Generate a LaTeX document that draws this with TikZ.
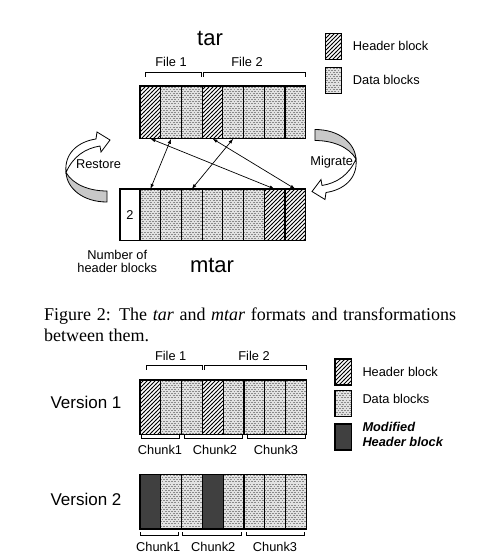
\documentclass[tikz,border=0pt]{standalone}
\usepackage{fontspec}
\setmainfont{Liberation Sans}
\newfontfamily\capfont{Liberation Serif}
\usetikzlibrary{patterns,arrows.meta,calc}

\pgfdeclarepatternformonly{hatchlines}{\pgfqpoint{-1pt}{-1pt}}{\pgfqpoint{5pt}{5pt}}{\pgfqpoint{4pt}{4pt}}{%
  \pgfsetlinewidth{0.9pt}
  \pgfpathmoveto{\pgfqpoint{-0.1pt}{-0.1pt}}
  \pgfpathlineto{\pgfqpoint{4.1pt}{4.1pt}}
  \pgfusepath{stroke}}
\pgfdeclarepatternformonly{datadash}{\pgfqpoint{-1pt}{-1pt}}{\pgfqpoint{4pt}{5pt}}{\pgfqpoint{3.2pt}{4.2pt}}{%
  \pgfsetlinewidth{0.9pt}
  \pgfpathmoveto{\pgfqpoint{0pt}{0.6pt}}\pgfpathlineto{\pgfqpoint{1.7pt}{0.6pt}}
  \pgfpathmoveto{\pgfqpoint{1.6pt}{2.7pt}}\pgfpathlineto{\pgfqpoint{3.3pt}{2.7pt}}
  \pgfusepath{stroke}}

\definecolor{darkblk}{HTML}{404040}
\definecolor{bandgray}{HTML}{C8C8C8}
\definecolor{dashgray}{HTML}{8A8A8A}
\definecolor{dashback}{HTML}{E2E2E2}

% curved arrow, tail centre at the origin
\newcommand\bentarrow{%
  \draw[bandback] (0,-5.5) -- (0,5.5) .. controls (-24,5.5) and (-40,-8) .. (-41,-24)
    .. controls (-34,-12) and (-18,-5.5) .. (0,-5.5) -- cycle;
  \draw[bandfront] (-41,-24) .. controls (-43,-44) and (-28,-55) .. (-11,-57.5)
    -- (-10,-64.5) -- (3,-56.5) -- (-6,-44.5) -- (-7,-50.5)
    .. controls (-22,-48) and (-34,-40) .. (-41,-24) -- cycle;}

\tikzset{
  blk/.style={draw, line width=1.2pt, minimum width=20.8pt, minimum height=52.7pt,
    inner sep=0pt, outer sep=0pt, anchor=north west, font=\fontsize{12.8}{13.3}\selectfont},
  hdr/.style={blk, pattern=hatchlines},
  dotfill/.style={preaction={fill=dashback}, pattern=datadash, pattern color=dashgray},
  dat/.style={blk, dotfill},
  mod/.style={blk, fill=darkblk},
  swatch/.style={draw, line width=1.2pt, minimum width=16pt, minimum height=26pt,
    inner sep=0pt, anchor=north west},
  lbl/.style={font=\fontsize{12.8}{13.3}\selectfont, inner sep=0pt},
  big/.style={font=\fontsize{22}{24}\selectfont, inner sep=0pt},
  bar/.style={line width=0.8pt},
  dbl/.style={{Latex[length=5pt,width=3.5pt]}-{Latex[length=5pt,width=3.5pt]}, line width=0.7pt},
  bandback/.style={draw, line width=0.8pt, fill=bandgray},
  bandfront/.style={draw, line width=0.8pt, fill=white},
}

\begin{document}
\begin{tikzpicture}[x=1pt, y=-1pt]
    \useasboundingbox[fill=white] (0,0) rectangle (477,556);

    % tar
    \node[big] (tarlbl) at (210,38) {tar};
    \foreach \i/\s in {1/hdr,2/dat,3/dat,4/hdr,5/dat,6/dat,7/dat,8/dat}
        \node[\s] (t\i) at ({140+(\i-1)*20.7},86) {};
    \node[lbl] (file1a) at (171,62) {File 1};
    \node[lbl] (file2a) at (247,62) {File 2};
    \draw[bar] (145.7,76.7) -- (145.7,72.7) -- (201.7,72.7) -- (201.7,76.7);
    \draw[bar] (203.3,76.7) -- (203.3,72.7) -- (305.7,72.7) -- (305.7,76.7);

    % legend
    \node[swatch, pattern=hatchlines] (keyhdr) at (325,33) {};
    \node[swatch, dotfill] (keydat) at (325,67) {};
    \node[lbl, anchor=west] at (352.7,46) {Header block};
    \node[lbl, anchor=west] at (352.7,80) {Data blocks};

    % mtar
    \node[blk, minimum width=20pt, minimum height=51.7pt] (count) at (120,189) {2};
    \foreach \i/\s in {1/dat,2/dat,3/dat,4/dat,5/dat,6/dat,7/hdr,8/hdr}
        \node[\s, minimum height=51.7pt] (m\i) at ({140+(\i-1)*20.7},189) {};
    \node[big] (mtarlbl) at (212,265) {mtar};
    \node[lbl, align=center] (countlbl) at (117.3,261.7) {Number of\\header blocks};

    % block moves
    \draw[dbl] (t1.south) -- (m7.north);
    \draw[dbl] (t2.south) -- (m1.north);
    \draw[dbl] (t4.south) -- (m8.north);
    \draw[dbl] (t5.south) -- (m3.north);

    % restore / migrate
    \begin{scope}[shift={(107,196.5)}]
        \bentarrow
    \end{scope}
    \begin{scope}[shift={(315,135)}, rotate=180]
        \bentarrow
    \end{scope}
    \node[lbl] (restore) at (98.5,164) {Restore};
    \node[lbl] (migrate) at (331.7,161.7) {Migrate};

    % caption
    \node[anchor=north west, inner sep=0pt, text width=412pt, align=justify,
        font={\capfont\fontsize{18}{21}\selectfont}] (caption) at (44,307.5)
        {Figure 2: The \textit{tar} and \textit{mtar} formats and transformations\linebreak between them.};

    % versions
    \node[lbl] (file1b) at (170.7,356) {File 1};
    \node[lbl] (file2b) at (254,356) {File 2};
    \draw[bar] (146,369.5) -- (146,365.5) -- (202.7,365.5) -- (202.7,369.5);
    \draw[bar] (204,369.5) -- (204,365.5) -- (306.7,365.5) -- (306.7,369.5);

    \node[font=\fontsize{17}{19}\selectfont, inner sep=0pt] (ver1) at (86,402.7) {Version 1};
    \foreach \i/\s in {1/hdr,2/dat,3/dat,4/hdr,5/dat,6/dat,7/dat,8/dat}
        \node[\s, minimum height=54.3pt] (a\i) at ({140+(\i-1)*20.8},380) {};
    \draw[bar] (141.7,434.7) -- (141.7,438) -- (179.3,438) -- (179.3,434.7);
    \draw[bar] (184,434.7) -- (184,438) -- (242,438) -- (242,434.7);
    \draw[bar] (247.3,434.7) -- (247.3,438) -- (305.3,438) -- (305.3,434.7);
    \node[lbl] at (160,450) {Chunk1};
    \node[lbl] at (215,450) {Chunk2};
    \node[lbl] at (276,450) {Chunk3};

    \node[font=\fontsize{17}{19}\selectfont, inner sep=0pt] (ver2) at (86,499) {Version 2};
    \foreach \i/\s in {1/mod,2/dat,3/dat,4/mod,5/dat,6/dat,7/dat,8/dat}
        \node[\s, minimum height=54.7pt] (b\i) at ({140+(\i-1)*20.8},474.3) {};
    \draw[bar] (140.7,532) -- (140.7,535.5) -- (178.3,535.5) -- (178.3,532);
    \draw[bar] (182.7,532) -- (182.7,535.5) -- (241,535.5) -- (241,532);
    \draw[bar] (246,532) -- (246,535.5) -- (304,535.5) -- (304,532);
    \node[lbl] at (158.3,546.7) {Chunk1};
    \node[lbl] at (213.3,546.7) {Chunk2};
    \node[lbl] at (275,546.7) {Chunk3};

    % legend
    \node[swatch, minimum width=16.7pt, pattern=hatchlines] (keyhdrb) at (334.3,358.3) {};
    \node[swatch, minimum width=16.7pt, dotfill] (keydatb) at (334.3,390) {};
    \node[swatch, minimum width=16.7pt, fill=darkblk] (keymod) at (334.3,423.3) {};
    \node[lbl, anchor=west] at (362.3,372.3) {Header block};
    \node[lbl, anchor=west] at (362.3,399) {Data blocks};
    \node[lbl, anchor=west, align=left, font=\fontsize{12.8}{15.6}\selectfont\bfseries\itshape] at (362.3,434.5) {Modified\\Header block};
\end{tikzpicture}
\end{document}
